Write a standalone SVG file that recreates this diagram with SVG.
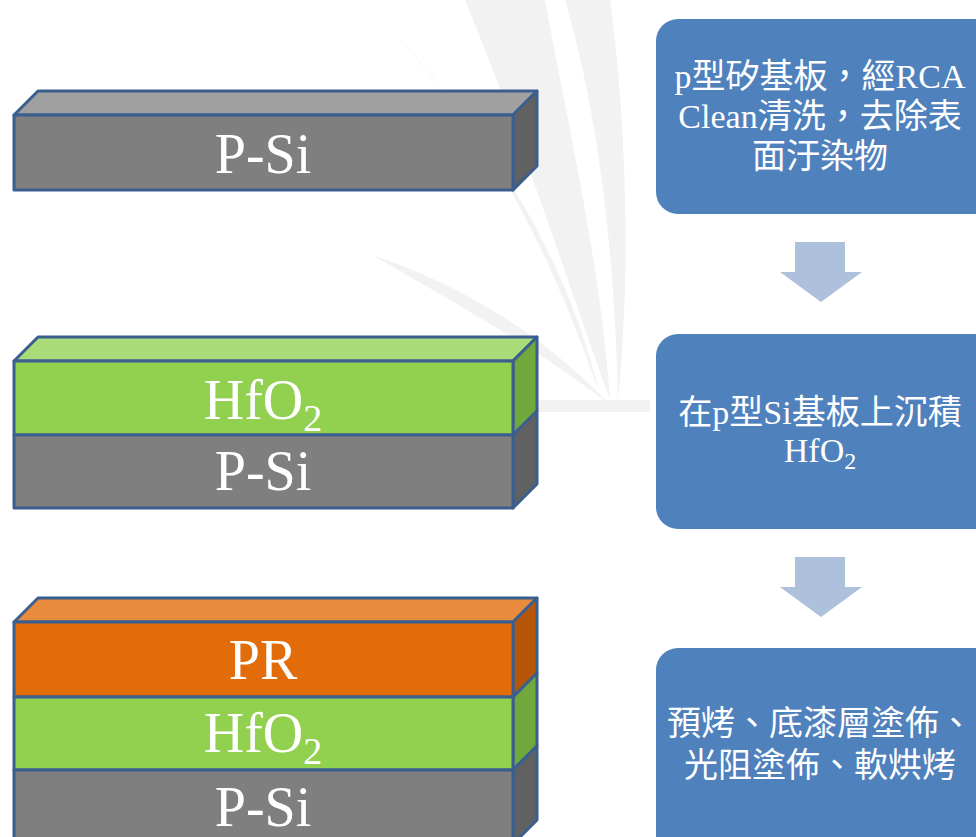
<svg xmlns="http://www.w3.org/2000/svg" width="976" height="837" viewBox="0 0 976 837">
<style>
.edge{stroke:#3a5f8f;stroke-width:3;stroke-linejoin:round}
.gf{fill:#7f7f7f}.gt{fill:#a0a0a0}.gr{fill:#616161}
.hf{fill:#92d050}.ht{fill:#a9db78}.hr{fill:#70a83c}
.of{fill:#e36c0a}.ot{fill:#e98b3c}.or{fill:#b65608}
.lbl{font-family:"Liberation Serif","Times New Roman",serif;font-size:56px;fill:#fff;text-anchor:middle}
.box{fill:#4f81bd}
.btx{font-family:"Liberation Serif","Noto Sans CJK TC",serif;font-size:34px;fill:#fff;text-anchor:middle}
.arr{fill:#adc0dc}
.wm{fill:#f2f2f2}
</style>
<rect width="976" height="837" fill="#fff"/>
<g id="watermark">
<path class="wm" d="M465 0 C515 120 560 260 610 400 C600 260 565 110 545 0 Z"/>
<path class="wm" d="M395 35 C470 110 540 220 600 395 C565 250 485 130 395 35 Z"/>
<path class="wm" d="M372 255 C450 280 540 330 610 405 C540 350 450 300 372 255 Z"/>
<path class="wm" d="M565 0 C600 120 615 260 618 400 C632 260 625 110 610 0 Z"/>
<path class="wm" d="M530 400 L650 400 L650 412 L530 412 Z"/>
</g>
<g id="block1">
<polygon class="gt edge" points="14,115 38,91 537,91 513,115"/>
<polygon class="gr edge" points="513,115 537,91 537,166 513,190"/>
<rect class="gf edge" x="14" y="115" width="499" height="75"/>
<text class="lbl" x="263" y="173">P-Si</text>
</g>
<g id="block2">
<polygon class="ht edge" points="14,361 38,337 537,337 513,361"/>
<polygon class="hr edge" points="513,361 537,337 537,411 513,435"/>
<polygon class="gr edge" points="513,435 537,411 537,484 513,508"/>
<rect class="hf edge" x="14" y="361" width="499" height="74"/>
<rect class="gf edge" x="14" y="435" width="499" height="73"/>
<text class="lbl" x="263" y="419">HfO<tspan font-size="38" dy="12">2</tspan></text>
<text class="lbl" x="263" y="490">P-Si</text>
</g>
<g id="block3">
<polygon class="ot edge" points="14,622 38,598 537,598 513,622"/>
<polygon class="or edge" points="513,622 537,598 537,673 513,697"/>
<polygon class="hr edge" points="513,697 537,673 537,746 513,770"/>
<polygon class="gr edge" points="513,770 537,746 537,820 513,844"/>
<rect class="of edge" x="14" y="622" width="499" height="75"/>
<rect class="hf edge" x="14" y="697" width="499" height="73"/>
<rect class="gf edge" x="14" y="770" width="499" height="74"/>
<text class="lbl" x="263" y="679">PR</text>
<text class="lbl" x="263" y="752">HfO<tspan font-size="38" dy="12">2</tspan></text>
<text class="lbl" x="263" y="826">P-Si</text>
</g>
<g id="step1">
<rect class="box" x="656" y="19" width="340" height="195" rx="22"/>
<text class="btx" x="820" y="88">p型矽基板，經RCA</text>
<text class="btx" x="820" y="128">Clean清洗，去除表</text>
<text class="btx" x="820" y="168">面汙染物</text>
</g>
<g id="step2">
<rect class="box" x="656" y="334" width="340" height="195" rx="22"/>
<text class="btx" x="820" y="424">在p型Si基板上沉積</text>
<text class="btx" x="820" y="462">HfO<tspan font-size="24" dy="7">2</tspan></text>
</g>
<g id="step3">
<rect class="box" x="656" y="648" width="340" height="220" rx="22"/>
<text class="btx" x="820" y="735">預烤、底漆層塗佈、</text>
<text class="btx" x="820" y="777">光阻塗佈、軟烘烤</text>
</g>
<g id="connectors">
<polygon class="arr" points="795,242 845,242 845,272 862,272 821,302 780,272 795,272"/>
<polygon class="arr" points="795,557 845,557 845,587 862,587 821,617 780,587 795,587"/>
</g>
</svg>
